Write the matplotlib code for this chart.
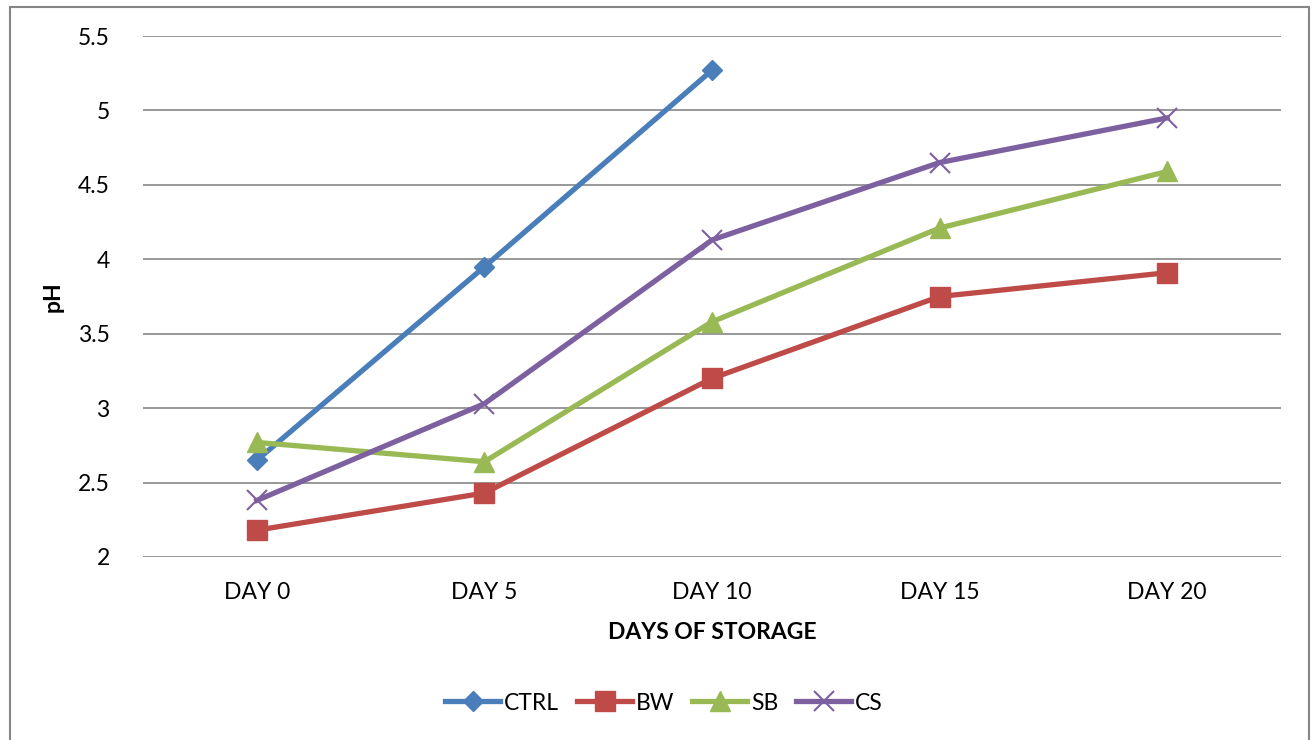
import matplotlib
matplotlib.use("Agg")
from matplotlib import pyplot as plt
from matplotlib.patches import Rectangle

plt.rcParams['font.family'] = ['Lato', 'DejaVu Sans']

days = ["DAY 0", "DAY 5", "DAY 10", "DAY 15", "DAY 20"]
ctrl = [2.65, 3.95, 5.27]
bw = [2.18, 2.43, 3.20, 3.75, 3.91]
sb = [2.77, 2.64, 3.58, 4.21, 4.59]
cs = [2.38, 3.03, 4.13, 4.65, 4.95]

fig = plt.figure(figsize=(13.11, 7.40), dpi=100)
ax = fig.add_axes([0.1091, 0.2473, 0.868, 0.704])

# outer chart border
fig.patches.append(Rectangle((9.5 / 1311, -0.05), 1299 / 1311, 1.05 - 6.5 / 740,
                             transform=fig.transFigure, fill=False,
                             edgecolor="#868686", linewidth=1.5))

x = range(len(days))
ax.plot(range(len(ctrl)), ctrl, color="#4A7EBB", lw=3.8, marker="D", ms=10.5, label="CTRL")
ax.plot(x, bw, color="#BE4B48", lw=3.8, marker="s", ms=14, label="BW")
ax.plot(x, sb, color="#98B954", lw=3.8, marker="^", ms=14.5, label="SB")
ax.plot(x, cs, color="#7D60A0", lw=3.8, marker="x", ms=14, mew=1.5, label="CS")

ax.set_xlim(-0.5, 4.5)
ax.set_ylim(2, 5.5)
ax.set_yticks([2, 2.5, 3, 3.5, 4, 4.5, 5, 5.5])
ax.set_yticklabels(["2", "2.5", "3", "3.5", "4", "4.5", "5", "5.5"])
ax.set_xticks(list(x))
ax.set_xticklabels(days)
ax.tick_params(length=0, labelsize=16.5, pad=18)
ax.tick_params(axis="y", pad=24)
ax.grid(axis="y", color="#868686", lw=1.2)
ax.set_axisbelow(True)
for s in ax.spines.values():
    s.set_visible(False)

ax.set_xlabel("DAYS OF STORAGE", fontsize=16.5, fontweight="bold", labelpad=14)
ax.set_ylabel("pH", fontsize=16.5, fontweight="bold", labelpad=10)

ax.legend(loc="center", bbox_to_anchor=(664 / 1311, 1 - 703 / 740), bbox_transform=fig.transFigure,
          ncol=4, frameon=False, fontsize=16.5, handlelength=2.4, handletextpad=0.15,
          columnspacing=0.8, markerscale=1.0)

plt.savefig("out.png", dpi=100)
